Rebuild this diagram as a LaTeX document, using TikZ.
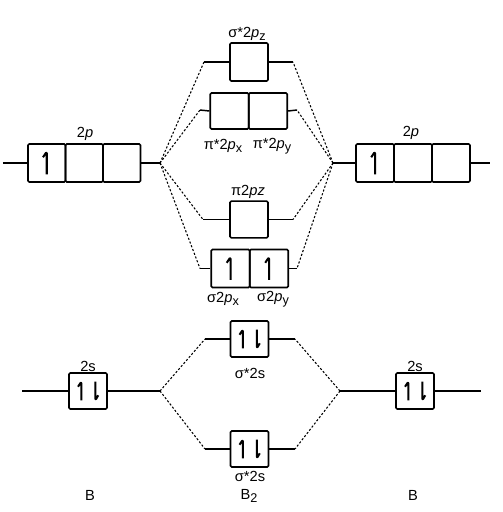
\documentclass[tikz,border=0pt]{standalone}
\usepackage{fontspec}
\setmainfont{Liberation Sans}
\newcommand{\lsub}[1]{\raisebox{-0.45ex}{\fontsize{9.5pt}{9.5pt}\selectfont #1}}
\begin{document}
\begin{tikzpicture}[x=0.75pt,y=-0.75pt,
  cell/.style={draw,line width=1.2pt,inner sep=0pt,minimum width=28.5pt,minimum height=28.5pt,rounded corners=1pt},
  cellw/.style={cell,minimum width=28.9pt},
  cellt/.style={cell,minimum height=27pt},
  lvl/.style={line width=1.1pt},
  conn/.style={line width=0.8pt,dash pattern=on 1.6pt off 1.4pt},
  lab/.style={font=\fontsize{11pt}{13pt}\selectfont,inner sep=0pt},
  one/.style={path picture={\draw[line width=1.5pt,line join=round]
     ([yshift=-8.5pt]path picture bounding box.center) -- ++(0,17pt) -- ++(-2.8pt,-4.2pt);}},
  two/.style={path picture={
     \draw[line width=1.5pt,line join=round]
     ([xshift=-5pt,yshift=-7pt]path picture bounding box.center) -- ++(0,14pt) -- ++(-2.5pt,-3.8pt);
     \draw[line width=1.5pt,line join=round]
     ([xshift=5.5pt,yshift=7pt]path picture bounding box.center) -- ++(0,-14pt) -- ++(2.2pt,3.8pt);}}]
\useasboundingbox (0,0) rectangle (503,512);

% atomic 2p (left)
\node[cell,minimum width=28.1pt,one] (L1) at (46.75,163) {};
\node[cell,minimum width=28.1pt] (L2) at (84.25,163) {};
\node[cell,minimum width=28.1pt] (L3) at (121.75,163) {};
% atomic 2p (right)
\node[cell,one] (R1) at (375,163) {};
\node[cell] (R2) at (413,163) {};
\node[cell] (R3) at (451,163) {};

% molecular p orbitals
\node[cell] (sz) at (249,62) {};
\node[cellw,minimum height=27pt] (px1) at (229.5,111) {};
\node[cellw,minimum height=27pt] (px2) at (268,111) {};
\node[cell,minimum height=27.5pt] (pz) at (249,219.5) {};
\node[cellw,one] (sx1) at (230.5,268.5) {};
\node[cellw,one] (sx2) at (269,268.5) {};

% s orbitals
\node[cellt,two] (Ls) at (88,391) {};
\node[cellt,two] (Rs) at (415,391) {};
\node[cellt,two] (ss1) at (249.5,339) {};
\node[cellt,two] (ss2) at (249.5,449) {};

% coordinates
\coordinate (cL) at (160,163);
\coordinate (cR) at (333,163);
\coordinate (eL) at (3,163);
\coordinate (eR) at (490,163);
\coordinate (szL) at (204,62);
\coordinate (szR) at (293,62);
\coordinate (pxL) at (200,110);
\coordinate (pxR) at (297,110);
\coordinate (pzL) at (203,219.5);
\coordinate (pzR) at (293,219.5);
\coordinate (sxL) at (200,268.5);
\coordinate (sxR) at (297,268.5);
\coordinate (csL) at (160,391);
\coordinate (csR) at (340,391);
\coordinate (esL) at (22,391);
\coordinate (esR) at (481,391);
\coordinate (s1L) at (205,339);
\coordinate (s1R) at (295,339);
\coordinate (s2L) at (205,449);
\coordinate (s2R) at (295,449);

% level lines
\draw[lvl] (eL) -- (L1.west);
\draw[lvl] (L3.east) -- (cL);
\draw[lvl] (cR) -- (R1.west);
\draw[lvl] (R3.east) -- (eR);
\draw[lvl] (szL) -- (sz.west);
\draw[lvl] (sz.east) -- (szR);
\draw[lvl] (pxL) -- (px1.west);
\draw[lvl] (px2.east) -- (pxR);
\draw[lvl] (pzL) -- (pz.west);
\draw[lvl] (pz.east) -- (pzR);
\draw[lvl] (sxL) -- (sx1.west);
\draw[lvl] (sx2.east) -- (sxR);
\draw[lvl] (esL) -- (Ls.west);
\draw[lvl] (Ls.east) -- (csL);
\draw[lvl] (csR) -- (Rs.west);
\draw[lvl] (Rs.east) -- (esR);
\draw[lvl] (s1L) -- (ss1.west);
\draw[lvl] (ss1.east) -- (s1R);
\draw[lvl] (s2L) -- (ss2.west);
\draw[lvl] (ss2.east) -- (s2R);

% dashed correlation lines
\foreach \a in {szL,pxL,pzL,sxL} \draw[conn] (cL) -- (\a);
\foreach \a in {szR,pxR,pzR,sxR} \draw[conn] (cR) -- (\a);
\draw[conn] (csL) -- (s1L);
\draw[conn] (csL) -- (s2L);
\draw[conn] (csR) -- (s1R);
\draw[conn] (csR) -- (s2R);

% labels
\node[lab] (t2pL) at (85,134) {2\textit{p}};
\node[lab] (t2pR) at (411,133) {2\textit{p}};
\node[lab] (tsz) at (247,34) {σ*2\textit{p}\lsub{z}};
\node[lab] (tpx) at (223,146) {π*2\textit{p}\lsub{x}};
\node[lab] (tpy) at (272,146) {π*2\textit{p}\lsub{y}};
\node[lab] (tpz) at (248,192) {π2\textit{pz}};
\node[lab] (tsx) at (223,299) {σ2\textit{p}\lsub{x}};
\node[lab] (tsy) at (273,299) {σ2\textit{p}\lsub{y}};
\node[lab] (ts1) at (250,373) {σ*2s};
\node[lab] (ts2) at (250,476) {σ*2s};
\node[lab] (t2sL) at (88,366) {2s};
\node[lab] (t2sR) at (415,366) {2s};
\node[lab] (tBL) at (90,495) {B};
\node[lab] (tB2) at (249,496) {B\lsub{2}};
\node[lab] (tBR) at (413,495) {B};
\end{tikzpicture}
\end{document}
